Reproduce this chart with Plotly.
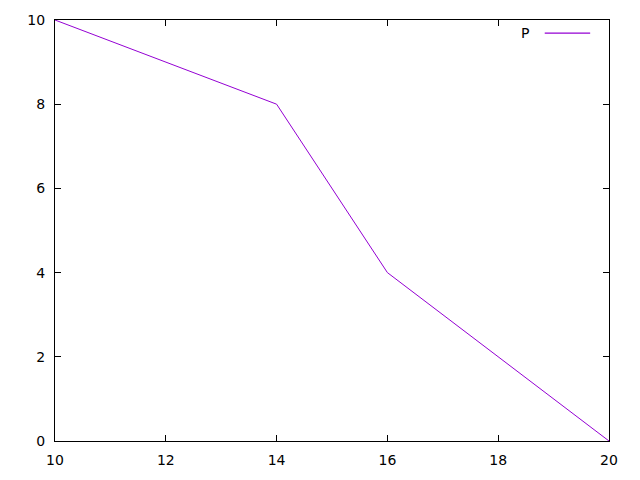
import plotly.graph_objects as go

# data
x_vals = [10, 14, 16, 20]
p_vals = [10, 8, 4, 0]
series_name = "P"

fig = go.Figure()
fig.add_trace(go.Scatter(x=x_vals, y=p_vals, mode='lines', name=series_name,
                         line=dict(color='#9400D3', width=1), showlegend=False))

# gnuplot-style key: label on the left, line sample to the right
fig.add_annotation(x=0.86, y=0.969, xref='paper', yref='paper', text=series_name,
                   showarrow=False, xanchor='right', yanchor='middle',
                   font=dict(family='DejaVu Sans', size=14, color='black'))
fig.add_shape(type='line', xref='paper', yref='paper', x0=0.884, x1=0.966, y0=0.969, y1=0.969,
              line=dict(color='#9400D3', width=1.3))

axis_style = dict(showline=True, linecolor='black', linewidth=1, mirror='ticks',
                  ticks='inside', ticklen=6, tickcolor='black', showgrid=False,
                  zeroline=False, ticklabelstandoff=6, automargin=False,
                  tickfont=dict(family='DejaVu Sans', size=14, color='black'))

fig.update_xaxes(range=[10, 20], dtick=2, **axis_style)
fig.update_yaxes(range=[0, 10], dtick=2, **axis_style)

# page body adds 8px, so margins are offset to keep the frame at the reference spot
fig.update_layout(width=640, height=480, plot_bgcolor='white', paper_bgcolor='white',
                  margin=dict(l=47, r=39, t=12, b=47))

fig.write_html("out.html")
